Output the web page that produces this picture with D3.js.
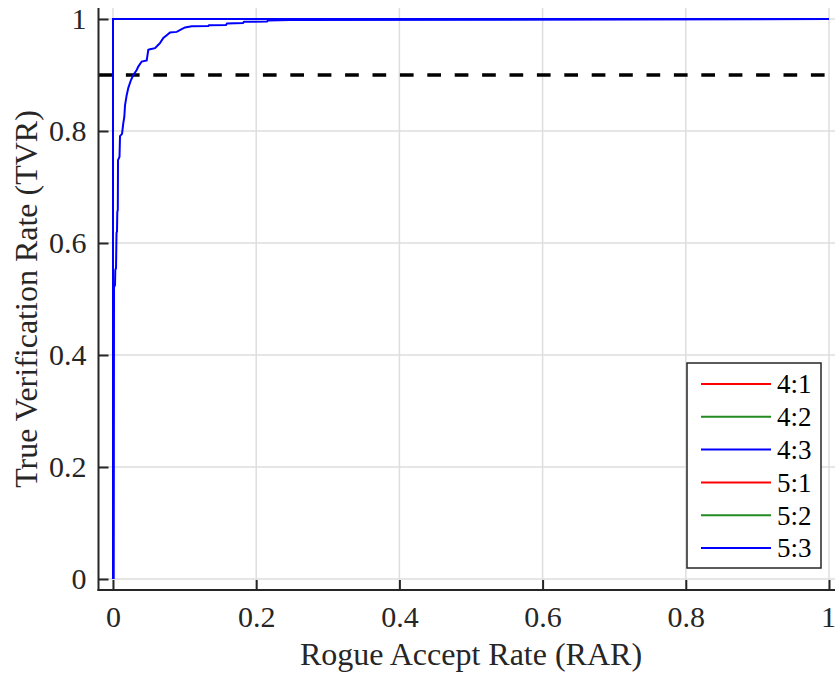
<!DOCTYPE html>
<html><head><meta charset="utf-8">
<script src="https://cdn.jsdelivr.net/npm/d3@7"></script>
<style>body{margin:0;background:#fff}</style>
</head><body><div id="chart"></div>
<script>
const seriesNames = ["4:1","4:2","4:3","5:1","5:2","5:3"];
const seriesColors = ["#ff0000","#228b22","#0000ff","#ff0000","#228b22","#0000ff"];
const xTicks = [0,0.2,0.4,0.6,0.8,1];
const yTicks = [0,0.2,0.4,0.6,0.8,1];
const threshold = 0.9;
const perfectRAR = [0,0,1];
const perfectTVR = [0,1,1];
const curveRAR = [0.001,0.0014,0.0028,0.0032,0.0042,0.0049,0.0056,0.006,0.0067,0.007,0.0091,0.0098,0.0126,0.0144,0.0158,0.0168,0.0191,0.0214,0.0251,0.0284,0.0331,0.0353,0.0401,0.0471,0.0493,0.0517,0.0587,0.0633,0.0656,0.0703,0.075,0.0796,0.089,0.0959,0.1006,0.1099,0.1331,0.1341,0.1578,0.1592,0.1816,0.183,0.2151,0.2165,0.2472,1];
const curveTVR = [0,0.521,0.525,0.552,0.555,0.618,0.621,0.655,0.659,0.748,0.754,0.791,0.795,0.814,0.825,0.846,0.864,0.877,0.891,0.9,0.909,0.915,0.924,0.926,0.945,0.946,0.948,0.954,0.957,0.966,0.971,0.976,0.977,0.982,0.985,0.987,0.9875,0.989,0.9893,0.992,0.9929,0.995,0.9955,0.9973,0.998,1];

const W=835,H=676;
const x=d3.scaleLinear().domain([0,1]).range([113,829]);
const y=d3.scaleLinear().domain([0,1]).range([579,19]);
const L=98.5,R=835,T=8,B=590;
const svg=d3.select("#chart").append("svg").attr("width",W).attr("height",H).attr("font-family","Liberation Serif").style("display","block");

function txt(sel){ return sel.attr("font-family","Liberation Serif").style("font-family","\"Liberation Serif\""); }

// grid
const g=svg.append("g");
g.selectAll(".gx").data(xTicks).join("line").attr("x1",d=>x(d)).attr("x2",d=>x(d)).attr("y1",T).attr("y2",B).attr("stroke","#dedede").attr("stroke-width",1.5);
g.selectAll(".gy").data(yTicks).join("line").attr("x1",L).attr("x2",R).attr("y1",d=>y(d)).attr("y2",d=>y(d)).attr("stroke","#dedede").attr("stroke-width",1.5);

// threshold
svg.append("line").attr("x1",L).attr("x2",R).attr("y1",y(threshold)).attr("y2",y(threshold)).attr("stroke","#000").attr("stroke-width",3.5).attr("stroke-dasharray","13.7,13.7");

// series
const line=d3.line().x(d=>x(d[0])).y(d=>y(d[1]));
const perfect=perfectRAR.map((v,i)=>[v,perfectTVR[i]]);
const curve=curveRAR.map((v,i)=>[v,curveTVR[i]]);
const seriesData=[perfect,perfect,curve,perfect,perfect,perfect];
seriesData.forEach((d,i)=>{
  svg.append("path").datum(d).attr("d",line).attr("fill","none").attr("stroke",seriesColors[i]).attr("stroke-width",2);
});

// axes
const ax=svg.append("g").attr("transform",`translate(0,${B})`).call(d3.axisBottom(x).tickValues(xTicks).tickFormat(d3.format("~g")).tickSize(-10).tickPadding(16));
const ay=svg.append("g").attr("transform",`translate(${L},0)`).call(d3.axisLeft(y).tickValues(yTicks).tickFormat(d3.format("~g")).tickSize(-10).tickPadding(12));
[ax,ay].forEach(a=>{
  a.attr("font-family","Liberation Serif").attr("font-size",30);
  a.select(".domain").remove();
  a.selectAll(".tick line").attr("stroke","#262626").attr("stroke-width",2);
  txt(a.selectAll("text").attr("font-size",30).attr("fill","#262626"));
});
ax.selectAll("text").filter(d=>d===1).attr("dx",-1);
svg.append("line").attr("x1",L).attr("x2",L).attr("y1",T).attr("y2",B+1).attr("stroke","#262626").attr("stroke-width",2);
svg.append("line").attr("x1",L-1).attr("x2",R).attr("y1",B).attr("y2",B).attr("stroke","#262626").attr("stroke-width",2);

txt(svg.append("text").attr("x",(x(0)+x(1))/2).attr("y",665).attr("text-anchor","middle").attr("font-size",32).attr("fill","#262626")).text("Rogue Accept Rate (RAR)");
txt(svg.append("text").attr("transform",`translate(37,${(y(0)+y(1))/2}) rotate(-90)`).attr("text-anchor","middle").attr("font-size",32).attr("fill","#262626")).text("True Verification Rate (TVR)");

// legend
const lg=svg.append("g");
lg.append("rect").attr("x",687).attr("y",363).attr("width",134).attr("height",205).attr("fill","#fff").attr("stroke","#262626").attr("stroke-width",1.5);
seriesNames.forEach((n,i)=>{
  const yy=384+i*32.8;
  lg.append("line").attr("x1",701).attr("x2",771).attr("y1",yy).attr("y2",yy).attr("stroke",seriesColors[i]).attr("stroke-width",2);
  txt(lg.append("text").attr("x",777).attr("y",yy).attr("dy","0.35em").attr("font-size",27).attr("fill","#000")).text(n);
});
</script></body></html>
